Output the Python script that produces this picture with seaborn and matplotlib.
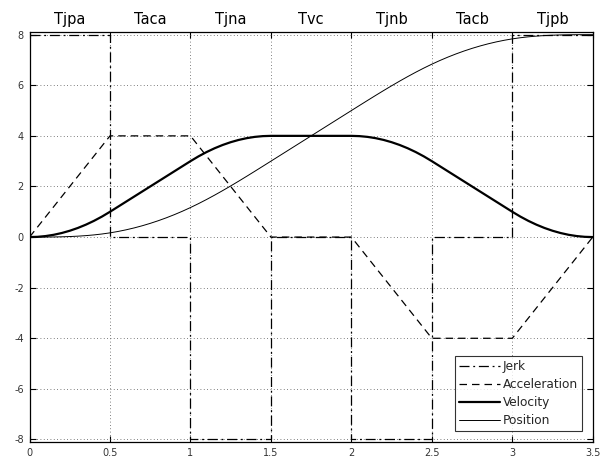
import numpy as np
import pandas as pd
import matplotlib
matplotlib.use("Agg")
import matplotlib.pyplot as plt
import seaborn as sns

# ---- data ----
phase_labels = ["Tjpa", "Taca", "Tjna", "Tvc", "Tjnb", "Tacb", "Tjpb"]
phase_edges = [0, 0.5, 1.0, 1.5, 2.0, 2.5, 3.0, 3.5]

jerk_t = [0, 0.5, 0.5, 1.0, 1.0, 1.5, 1.5, 2.0, 2.0, 2.5, 2.5, 3.0, 3.0, 3.5]
jerk_v = [8, 8, 0, 0, -8, -8, 0, 0, -8, -8, 0, 0, 8, 8]

acc_t = [0, 0.5, 1.0, 1.5, 2.0, 2.5, 3.0, 3.5]
acc_v = [0, 4, 4, 0, 0, -4, -4, 0]

curve_t = np.linspace(0, 3.5, 71)
velocity = [0, 0.01, 0.04, 0.09, 0.16, 0.25, 0.36, 0.49, 0.64, 0.81, 1.0,
            1.2, 1.4, 1.6, 1.8, 2.0, 2.2, 2.4, 2.6, 2.8, 3.0,
            3.19, 3.36, 3.51, 3.64, 3.75, 3.84, 3.91, 3.96, 3.99, 4.0,
            4, 4, 4, 4, 4, 4, 4, 4, 4, 4,
            3.99, 3.96, 3.91, 3.84, 3.75, 3.64, 3.51, 3.36, 3.19, 3.0,
            2.8, 2.6, 2.4, 2.2, 2.0, 1.8, 1.6, 1.4, 1.2, 1.0,
            0.81, 0.64, 0.49, 0.36, 0.25, 0.16, 0.09, 0.04, 0.01, 0]
position = [0, 0.0002, 0.0013, 0.0045, 0.0107, 0.0208, 0.036, 0.0572, 0.0853, 0.1215, 0.1667,
            0.2217, 0.2867, 0.3617, 0.4467, 0.5417, 0.6467, 0.7617, 0.8867, 1.0217, 1.1667,
            1.3215, 1.4853, 1.6572, 1.836, 2.0208, 2.2107, 2.4045, 2.6013, 2.8002, 3.0,
            3.2, 3.4, 3.6, 3.8, 4.0, 4.2, 4.4, 4.6, 4.8, 5.0,
            5.1998, 5.3987, 5.5955, 5.7893, 5.9792, 6.164, 6.3428, 6.5147, 6.6785, 6.8333,
            6.9783, 7.1133, 7.2383, 7.3533, 7.4583, 7.5533, 7.6383, 7.7133, 7.7783, 7.8333,
            7.8785, 7.9147, 7.9428, 7.964, 7.9792, 7.9893, 7.9955, 7.9987, 7.9998, 8.0]

x_ticks = [0, 0.5, 1, 1.5, 2, 2.5, 3, 3.5]
x_ticklabels = ["0", "0.5", "1", "1.5", "2", "2.5", "3", "3.5"]
y_ticks = [-8, -6, -4, -2, 0, 2, 4, 6, 8]

# ---- plot ----
sns.set_style("white")
plt.rcParams["font.family"] = ["DejaVu Sans"]
plt.rcParams["axes.unicode_minus"] = False

fig = plt.figure(figsize=(6.03, 4.59), dpi=100)
ax = fig.add_axes([0.049, 0.037, 0.934, 0.893])

jerk_df = pd.DataFrame({"t": jerk_t, "v": jerk_v})
acc_df = pd.DataFrame({"t": acc_t, "v": acc_v})
curve_df = pd.DataFrame({"t": curve_t, "vel": velocity, "pos": position})

sns.lineplot(data=jerk_df, x="t", y="v", ax=ax, color="black", lw=0.9,
             linestyle=(0, (8, 3, 1.5, 3)), sort=False, estimator=None, label="Jerk")
sns.lineplot(data=acc_df, x="t", y="v", ax=ax, color="black", lw=0.9,
             linestyle=(0, (6, 4)), sort=False, estimator=None, label="Acceleration")
sns.lineplot(data=curve_df, x="t", y="vel", ax=ax, color="black", lw=1.6,
             sort=False, estimator=None, label="Velocity")
sns.lineplot(data=curve_df, x="t", y="pos", ax=ax, color="black", lw=0.7,
             sort=False, estimator=None, label="Position")

ax.set_xlim(0, 3.5)
ax.set_ylim(-8.1, 8.1)
ax.set_xticks(x_ticks)
ax.set_xticklabels(x_ticklabels)
ax.set_yticks(y_ticks)
ax.set_xlabel("")
ax.set_ylabel("")
ax.grid(True, color="#555555", linestyle=(0, (1, 3)), lw=0.6)
ax.tick_params(direction="in", length=4, labelsize=7, colors="black",
               labelcolor="#333333",
               top=True, right=True, bottom=True, left=True, pad=4)
for s in ax.spines.values():
    s.set_color("black")
    s.set_linewidth(0.9)

for i, lab in enumerate(phase_labels):
    xc = (phase_edges[i] + phase_edges[i + 1]) / 2
    ax.text(xc, 1.012, lab, transform=ax.get_xaxis_transform(),
            ha="center", va="bottom", fontsize=10.5, color="black")

leg = ax.legend(loc="lower right", fontsize=8.7, frameon=True, fancybox=False,
                borderaxespad=0.9, handlelength=3.4, handletextpad=0.2,
                labelspacing=0.4, borderpad=0.35)
leg.get_frame().set_edgecolor("black")
leg.get_frame().set_linewidth(0.8)

fig.savefig("out.png", dpi=100)
